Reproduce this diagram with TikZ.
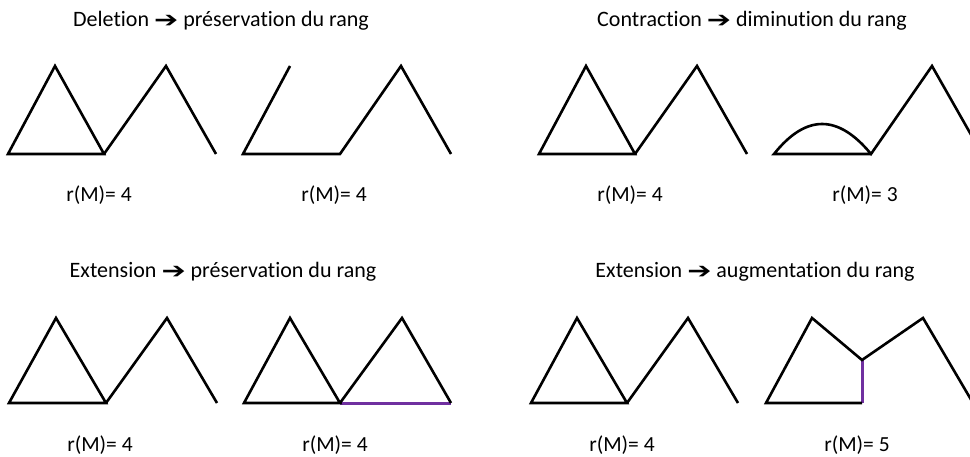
\documentclass[tikz,border=0pt]{standalone}
\usepackage{fontspec}
\setmainfont{Carlito}[Ligatures={NoCommon}]
\newfontfamily\dv{DejaVu Sans}
\definecolor{extcol}{HTML}{7030A0}
\begin{document}
\begin{tikzpicture}[x=1pt,y=-1pt,
  edge/.style={line width=2.6pt, line join=miter},
  newedge/.style={line width=3pt, color=extcol},
  title/.style={font=\fontsize{22}{26}\selectfont, inner sep=0pt},
  rank/.style={font=\fontsize{21.5}{25}\selectfont, inner sep=0pt}]
\useasboundingbox (0,0) rectangle (970,457);
\clip (0,0) rectangle (970,457);
\newcommand{\arr}{\raisebox{-0.5pt}{\scalebox{1.7}[1.3]{\dv\bfseries\fontsize{17}{20}\selectfont ➔}}}
% titles
\node[title] (t1) at (221,21) {Deletion \arr{} préservation du rang};
\node[title] (t2) at (752,21) {Contraction \arr{} diminution du rang};
\node[title] (t3) at (223,272) {Extension \arr{} préservation du rang};
\node[title] (t4) at (755,272) {Extension \arr{} augmentation du rang};
% ranks
\node[rank] (r1) at (99,195) {r(M)= 4};
\node[rank] (r2) at (334,195) {r(M)= 4};
\node[rank] (r3) at (630,195) {r(M)= 4};
\node[rank] (r4) at (865,195) {r(M)= 3};
\node[rank] (r5) at (100,445) {r(M)= 4};
\node[rank] (r6) at (335,445) {r(M)= 4};
\node[rank] (r7) at (622,445) {r(M)= 4};
\node[rank] (r8) at (857,445) {r(M)= 5};
% figure A
\coordinate (A1) at (8,154); \coordinate (A2) at (55,66); \coordinate (A3) at (104,154);
\coordinate (A4) at (166,66); \coordinate (A5) at (216,154);
\draw[edge] (A1) -- (A2) -- (A3) -- cycle;
\draw[edge] (A3) -- (A4) -- (A5);
% figure B
\coordinate (B1) at (243,154); \coordinate (B2) at (290,66); \coordinate (B3) at (340,154);
\coordinate (B4) at (401,66); \coordinate (B5) at (451,154);
\draw[edge] (B2) -- (B1) -- (B3) -- (B4) -- (B5);
% figure C
\coordinate (C1) at (539,154); \coordinate (C2) at (586,66); \coordinate (C3) at (635,154);
\coordinate (C4) at (697,66); \coordinate (C5) at (747,154);
\draw[edge] (C1) -- (C2) -- (C3) -- cycle;
\draw[edge] (C3) -- (C4) -- (C5);
% figure D
\coordinate (D1) at (774,154); \coordinate (D3) at (871,154);
\coordinate (D4) at (932,66); \coordinate (D5) at (982,154);
\draw[edge] (D3) -- (D1) .. controls (806,114) and (838,114) .. (D3) -- (D4) -- (D5);
% figure E
\coordinate (E1) at (9,403); \coordinate (E2) at (56,318); \coordinate (E3) at (106,403);
\coordinate (E4) at (167,318); \coordinate (E5) at (217,403);
\draw[edge] (E1) -- (E2) -- (E3) -- cycle;
\draw[edge] (E3) -- (E4) -- (E5);
% figure F
\coordinate (F1) at (244,403); \coordinate (F2) at (290,318); \coordinate (F3) at (340,403);
\coordinate (F4) at (402,318); \coordinate (F5) at (451,403);
\draw[newedge] (F3) -- (F5);
\draw[edge] (F1) -- (F2) -- (F3) -- cycle;
\draw[edge] (F3) -- (F4) -- (F5);
% figure G
\coordinate (G1) at (531,403); \coordinate (G2) at (577,318); \coordinate (G3) at (627,403);
\coordinate (G4) at (688,318); \coordinate (G5) at (738,403);
\draw[edge] (G1) -- (G2) -- (G3) -- cycle;
\draw[edge] (G3) -- (G4) -- (G5);
% figure H
\coordinate (H1) at (766,403); \coordinate (H2) at (812,318); \coordinate (H3) at (862,360);
\coordinate (H4) at (923,318); \coordinate (H5) at (973,403); \coordinate (H6) at (862,403);
\draw[newedge] (H3) -- (H6);
\draw[edge] (H6) -- (H1) -- (H2) -- (H3) -- (H4) -- (H5);
\end{tikzpicture}
\end{document}
